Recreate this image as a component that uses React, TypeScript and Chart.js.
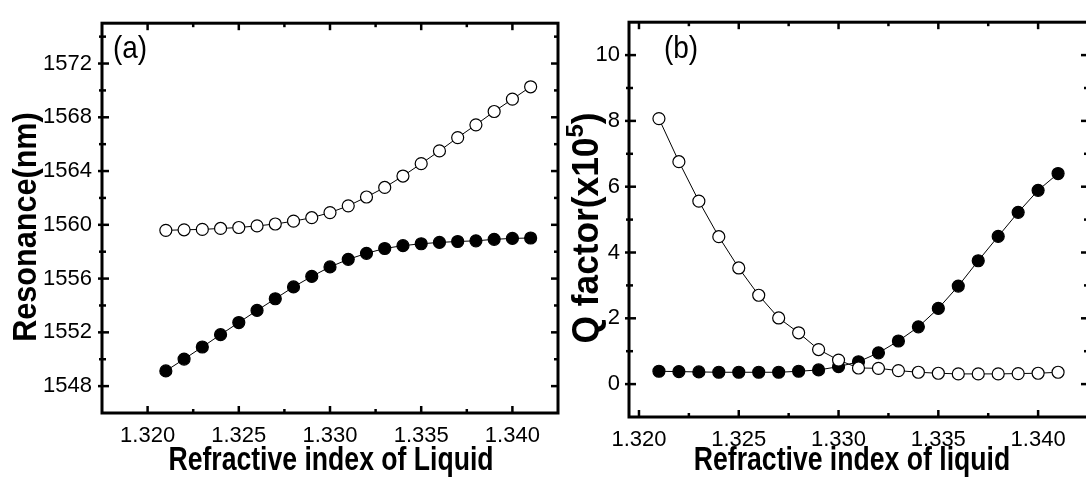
import React, { useEffect, useRef } from "react";
import { Chart, registerables } from "chart.js";

Chart.register(...registerables);

// ---------------- data ----------------
const refractiveIndex = [
  1.321, 1.322, 1.323, 1.324, 1.325, 1.326, 1.327, 1.328, 1.329, 1.33, 1.331,
  1.332, 1.333, 1.334, 1.335, 1.336, 1.337, 1.338, 1.339, 1.34, 1.341,
];

const resonanceOpen = [
  1559.59, 1559.63, 1559.66, 1559.73, 1559.8, 1559.92, 1560.06, 1560.27,
  1560.53, 1560.91, 1561.41, 1562.07, 1562.78, 1563.63, 1564.55, 1565.5,
  1566.49, 1567.44, 1568.43, 1569.35, 1570.27,
];
const resonanceFilled = [
  1549.13, 1550.01, 1550.91, 1551.83, 1552.73, 1553.63, 1554.5, 1555.38,
  1556.16, 1556.87, 1557.43, 1557.88, 1558.24, 1558.45, 1558.59, 1558.69,
  1558.76, 1558.81, 1558.92, 1558.99, 1559.02,
];

const qOpen = [
  8.07, 6.76, 5.56, 4.48, 3.53, 2.7, 2.01, 1.56, 1.05, 0.73, 0.49, 0.48, 0.41,
  0.36, 0.33, 0.31, 0.31, 0.31, 0.32, 0.33, 0.36,
];
const qFilled = [
  0.39, 0.38, 0.37, 0.36, 0.36, 0.36, 0.36, 0.39, 0.43, 0.53, 0.68, 0.95, 1.31,
  1.74, 2.3, 2.98, 3.75, 4.49, 5.22, 5.89, 6.4,
];

const xMajorTicks = [1.32, 1.325, 1.33, 1.335, 1.34];
const xMinorTicks = [1.3225, 1.3275, 1.3325, 1.3375];
const resonanceMajorTicks = [1548, 1552, 1556, 1560, 1564, 1568, 1572];
const resonanceMinorTicks = [1550, 1554, 1558, 1562, 1566, 1570, 1574];
const qMajorTicks = [0, 2, 4, 6, 8, 10];
const qMinorTicks = [1, 3, 5, 7, 9];

const FONT = "'Liberation Sans', Arial, Helvetica, sans-serif";

type Seg = { t: string; sup?: boolean };

function drawTextSegs(
  ctx: CanvasRenderingContext2D,
  segs: Seg[],
  x: number,
  y: number,
  size: number,
  bold: boolean,
  rotate: boolean,
  sx: number,
  sy: number
) {
  ctx.save();
  ctx.translate(x, y);
  if (rotate) ctx.rotate(-Math.PI / 2);
  ctx.scale(sx, sy);
  ctx.fillStyle = "#000";
  ctx.textBaseline = "alphabetic";
  ctx.textAlign = "left";
  const w = bold ? "bold " : "";
  let total = 0;
  const widths: number[] = [];
  for (const s of segs) {
    const fs = s.sup ? size * 0.68 : size;
    ctx.font = `${w}${fs}px ${FONT}`;
    const mw = ctx.measureText(s.t).width;
    widths.push(mw);
    total += mw;
  }
  let cx = -total / 2;
  segs.forEach((s, i) => {
    const fs = s.sup ? size * 0.68 : size;
    ctx.font = `${w}${fs}px ${FONT}`;
    ctx.fillText(s.t, cx, s.sup ? -size * 0.42 : 0);
    cx += widths[i];
  });
  ctx.restore();
}

const decorPlugin = {
  id: "decor",
  afterDraw(chart: any, _args: any, o: any) {
    const { ctx, chartArea: a, scales } = chart;
    const xs = scales.x;
    const ys = scales.y;
    ctx.save();
    ctx.strokeStyle = "#000";
    ctx.lineCap = "butt";
    ctx.lineWidth = 3;
    ctx.strokeRect(a.left, a.top, a.right - a.left, a.bottom - a.top);
    ctx.lineWidth = 2.5;
    const line = (x1: number, y1: number, x2: number, y2: number) => {
      ctx.beginPath();
      ctx.moveTo(x1, y1);
      ctx.lineTo(x2, y2);
      ctx.stroke();
    };
    const MJ = 7;
    const MN = 4;
    for (const v of o.xMajor) {
      const px = xs.getPixelForValue(v);
      line(px, a.bottom, px, a.bottom - MJ);
      line(px, a.top, px, a.top + MJ);
    }
    for (const v of o.xMinor) {
      const px = xs.getPixelForValue(v);
      line(px, a.bottom, px, a.bottom - MN);
      line(px, a.top, px, a.top + MN);
    }
    for (const v of o.yMajor) {
      const py = ys.getPixelForValue(v);
      line(a.left - 4, py, a.left + MJ, py);
      line(a.right, py, a.right - MJ, py);
    }
    for (const v of o.yMinor) {
      const py = ys.getPixelForValue(v);
      line(a.left - 3, py, a.left + MN, py);
      line(a.right, py, a.right - MN, py);
    }
    ctx.restore();

    const t = o.titles;
    drawTextSegs(ctx, t.x.segs, t.x.x, t.x.y, t.x.size, true, false, t.x.sx, t.x.sy);
    drawTextSegs(ctx, t.y.segs, t.y.x, t.y.y, t.y.size, true, true, t.y.sx, t.y.sy);
    drawTextSegs(ctx, [{ t: o.label.text }], o.label.x, o.label.y, o.label.size, false, false, 1, o.label.sy);
  },
};

type PanelSpec = {
  width: number;
  height: number;
  plotLeft: number;
  plotRight: number;
  plotTop: number;
  plotBottom: number;
  xMin: number;
  xMax: number;
  yMin: number;
  yMax: number;
  open: number[];
  filled: number[];
  yMajor: number[];
  yMinor: number[];
  yPad: number;
  titles: any;
  label: any;
};

function makeConfig(p: PanelSpec): any {
  const pts = (arr: number[]) => refractiveIndex.map((x, i) => ({ x, y: arr[i] }));
  const base = {
    type: "line",
    borderColor: "#000",
    borderWidth: 1,
    pointRadius: 6,
    pointBorderColor: "#000",
    pointBorderWidth: 1.2,
    pointHoverRadius: 6,
    tension: 0,
    fill: false,
  };
  return {
    type: "line",
    data: {
      datasets: [
        { ...base, label: "open", data: pts(p.open), pointBackgroundColor: "#fff", backgroundColor: "#fff" },
        { ...base, label: "filled", data: pts(p.filled), pointBackgroundColor: "#000", backgroundColor: "#000" },
      ],
    },
    plugins: [decorPlugin],
    options: {
      responsive: false,
      maintainAspectRatio: false,
      animation: false,
      devicePixelRatio: 1,
      layout: { padding: { top: p.plotTop, right: p.width - p.plotRight, left: 0, bottom: 0 } },
      plugins: {
        legend: { display: false },
        tooltip: { enabled: false },
        decor: {
          xMajor: xMajorTicks,
          xMinor: xMinorTicks,
          yMajor: p.yMajor,
          yMinor: p.yMinor,
          titles: p.titles,
          label: p.label,
        },
      },
      scales: {
        x: {
          type: "linear",
          min: p.xMin,
          max: p.xMax,
          grid: { display: false, drawTicks: false },
          border: { display: false },
          afterBuildTicks: (s: any) => {
            s.ticks = xMajorTicks.map((v) => ({ value: v }));
          },
          afterFit: (s: any) => {
            s.height = p.height - p.plotBottom;
          },
          ticks: {
            padding: 10,
            color: "#000",
            font: { family: FONT, size: 22 },
            maxRotation: 0,
            autoSkip: false,
            callback: (v: number) => v.toFixed(3),
          },
        },
        y: {
          type: "linear",
          min: p.yMin,
          max: p.yMax,
          grid: { display: false, drawTicks: false },
          border: { display: false },
          afterBuildTicks: (s: any) => {
            s.ticks = p.yMajor.map((v) => ({ value: v }));
          },
          afterFit: (s: any) => {
            s.width = p.plotLeft;
          },
          ticks: {
            padding: p.yPad,
            color: "#000",
            font: { family: FONT, size: 22 },
            autoSkip: false,
            callback: (v: number) => String(v),
          },
        },
      },
    },
  };
}

const panelA: PanelSpec = {
  width: 580,
  height: 481,
  plotLeft: 102,
  plotRight: 558,
  plotTop: 4,
  plotBottom: 413,
  xMin: 1.3175,
  xMax: 1.3425,
  yMin: 1546,
  yMax: 1575,
  open: resonanceOpen,
  filled: resonanceFilled,
  yMajor: resonanceMajorTicks,
  yMinor: resonanceMinorTicks,
  yPad: 10,
  titles: {
    x: { segs: [{ t: "Refractive index of Liquid" }], x: 331, y: 470, size: 28, sx: 0.95, sy: 1.2 },
    y: { segs: [{ t: "Resonance(nm)" }], x: 36, y: 227, size: 34, sx: 0.9, sy: 1.0 },
  },
  label: { text: "(a)", x: 130, y: 58, size: 28, sy: 1.15 },
};

const panelB: PanelSpec = {
  width: 540,
  height: 481,
  plotLeft: 69,
  plotRight: 528,
  plotTop: 11,
  plotBottom: 417,
  xMin: 1.3195,
  xMax: 1.3425,
  yMin: -1,
  yMax: 11,
  open: qOpen,
  filled: qFilled,
  yMajor: qMajorTicks,
  yMinor: qMinorTicks,
  yPad: 9,
  titles: {
    x: { segs: [{ t: "Refractive index of liquid" }], x: 292, y: 470, size: 28, sx: 0.95, sy: 1.2 },
    y: {
      segs: [{ t: "Q factor(x10" }, { t: "5", sup: true }, { t: ")" }],
      x: 38,
      y: 228,
      size: 36,
      sx: 0.98,
      sy: 1.0,
    },
  },
  label: { text: "(b)", x: 121, y: 58, size: 28, sy: 1.15 },
};

function Panel({ spec, left }: { spec: PanelSpec; left: number }) {
  const ref = useRef<HTMLCanvasElement | null>(null);
  useEffect(() => {
    if (!ref.current) return;
    const chart = new Chart(ref.current, makeConfig(spec));
    return () => chart.destroy();
  }, [spec]);
  return (
    <canvas
      ref={ref}
      width={spec.width}
      height={spec.height}
      style={{ position: "absolute", left, top: 0, width: spec.width, height: spec.height }}
    />
  );
}

export default function App() {
  return (
    <div
      style={{
        position: "fixed",
        left: 0,
        top: 0,
        width: 1086,
        height: 481,
        overflow: "hidden",
        background: "#fff",
      }}
    >
      <Panel spec={panelA} left={0} />
      <Panel spec={panelB} left={560} />
    </div>
  );
}
